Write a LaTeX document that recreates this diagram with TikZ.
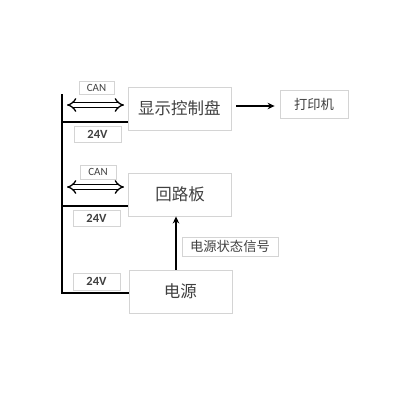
\documentclass[tikz,border=0pt]{standalone}
\usepackage{fontspec}
\setmainfont{Carlito}
\newfontfamily\cjk{Noto Sans CJK SC}
\usetikzlibrary{arrows.meta,calc}
\definecolor{txt}{HTML}{404040}
\definecolor{bord}{HTML}{D4D4D4}
\tikzset{
  mainbox/.style={draw=bord, line width=0.9pt, minimum width=103pt, minimum height=43pt, inner sep=0pt, text=txt, font=\cjk\fontsize{16.5}{18}\selectfont},
  smallbox/.style={draw=bord, line width=0.8pt, inner sep=0pt, text=txt, font=\cjk\fontsize{13.3}{15}\selectfont},
  lblbox/.style={draw=bord, line width=0.8pt, inner sep=0pt, text=txt},
  canfont/.style={font=\fontsize{11}{12}\selectfont},
  vfont/.style={font=\bfseries\fontsize{12.5}{14}\selectfont},
  wire/.style={line width=1.8pt, black},
  dbl/.style={double=white, double distance=3.4pt, line width=1.3pt, {Implies[length=7pt]}-{Implies[length=7pt]}},
  arr/.style={line width=1.8pt, -{Stealth[length=7pt,width=6.5pt]}}
}
\begin{document}
\begin{tikzpicture}[x=1pt,y=-1pt]
\useasboundingbox (0,0) rectangle (400,400);
% main boxes
\node[mainbox] (disp) at (179.5,108.5) {显示控制盘};
\node[mainbox] (loop) at (180,194.5) {回路板};
\node[mainbox] (psu) at (180.5,291.5) {电源};
\node[smallbox, minimum width=68pt, minimum height=28pt] (prn) at (314,104) {打印机};
\node[smallbox, minimum width=96pt, minimum height=19pt] (sig) at (230,246.5) {电源状态信号};
% labels
\node[lblbox, canfont, minimum width=35pt, minimum height=13pt] (can1) at (96.5,87.5) {CAN};
\node[lblbox, canfont, minimum width=36pt, minimum height=14pt] (can2) at (98,172) {CAN};
\node[lblbox, vfont, minimum width=47pt, minimum height=16pt] (v1) at (97.5,134) {24V};
\node[lblbox, vfont, minimum width=47pt, minimum height=16pt] (v2) at (96.5,218) {24V};
\node[lblbox, vfont, minimum width=47pt, minimum height=17pt] (v3) at (96.5,281.5) {24V};
% bus
\coordinate (top) at (62,95);
\coordinate (bot) at (62,293);
\coordinate (h1) at (62,122);
\coordinate (h2) at (62,206);
\draw[wire, line cap=rect] (top) -- (bot) -- (bot -| psu.west);
\draw[wire] (h1) -- (h1 -| disp.west);
\draw[wire] (h2) -- (h2 -| loop.west);
% CAN double arrows
\coordinate (c1a) at (67,105);
\coordinate (c1b) at (124,105);
\coordinate (c2a) at (67,187);
\coordinate (c2b) at (124,187);
\draw[dbl] (c1a) -- (c1b);
\draw[dbl] (c2a) -- (c2b);
% arrows
\coordinate (ax) at (176,0);
\draw[arr] (ax |- psu.north) -- (ax |- loop.south);
\draw[arr, shorten <=5pt, shorten >=5pt] (disp.east |- prn.west) ++(0,2) coordinate (pa) (pa) -- (pa -| prn.west);
\end{tikzpicture}
\end{document}
